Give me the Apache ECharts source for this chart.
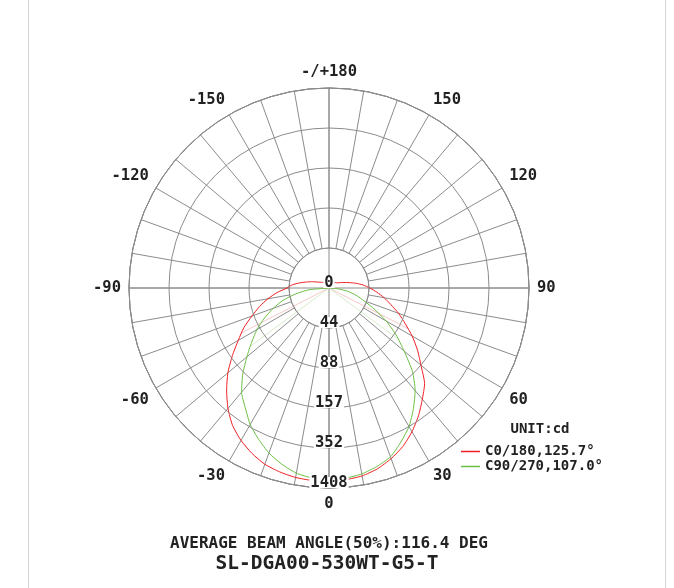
<!DOCTYPE html>
<html>
<head>
<meta charset="utf-8">
<script src="https://cdn.jsdelivr.net/npm/echarts@6/dist/echarts.min.js"></script>
<style>html,body{margin:0;padding:0;background:#fff}#c{width:674px;height:588px}</style>
</head>
<body>
<div id="c"></div>
<script>
// ---- data ----
const angles = [-180,-175,-170,-165,-160,-155,-150,-145,-140,-135,-130,-125,-120,-115,-110,-105,-100,-95,-90,-85,-80,-75,-70,-65,-60,-55,-50,-45,-40,-35,-30,-25,-20,-15,-10,-5,0,5,10,15,20,25,30,35,40,45,50,55,60,65,70,75,80,85,90,95,100,105,110,115,120,125,130,135,140,145,150,155,160,165,170,175,180];
// values in ring units (each ring = one labelled step of the radial scale)
const redValues = [0.15,0.15,0.15,0.15,0.15,0.15,0.16,0.17,0.18,0.20,0.22,0.25,0.29,0.36,0.46,0.58,0.74,0.92,1.05,1.30,1.55,1.80,2.05,2.35,2.62,2.95,3.30,3.62,3.93,4.20,4.40,4.56,4.69,4.76,4.81,4.83,4.84,4.81,4.77,4.68,4.54,4.37,4.15,3.90,3.63,3.38,3.00,2.70,2.40,2.10,1.85,1.60,1.40,1.20,1.02,0.86,0.68,0.52,0.40,0.32,0.26,0.23,0.21,0.19,0.18,0.17,0.16,0.15,0.15,0.15,0.15,0.15,0.15];
const greenValues = [0,0,0,0,0,0,0,0,0,0,0,0,0,0,0,0,0,0,0,0.50,0.84,1.19,1.48,1.78,2.08,2.36,2.68,3.05,3.40,3.65,3.94,4.17,4.39,4.56,4.70,4.77,4.80,4.77,4.72,4.62,4.49,4.25,4.00,3.68,3.35,2.95,2.45,2.05,1.65,1.25,0.93,0.70,0.48,0.22,0,0,0,0,0,0,0,0,0,0,0,0,0,0,0,0,0,0,0];
const radialTickLabels = ['0','44','88','157','352','1408'];
const angleTickLabels = ['0','30','60','90','120','150','-/+180','-150','-120','-90','-60','-30'];
const seriesNames = ['C0/180,125.7°','C90/270,107.0°'];
const beamAngles = [125.7, 107.0];
const unitText = 'UNIT:cd';
const titleText = 'AVERAGE BEAM ANGLE(50%):116.4 DEG';
const modelText = 'SL-DGA00-530WT-G5-T';

// ---- helpers ----
const FONT = '"DejaVu Sans Mono", "Liberation Mono", monospace';
const gridColor = '#8c8c8c';
const textColor = '#222';
const redColor = '#f01e23';
const greenColor = '#6cbf45';
const norm = a => (a < 0 ? a + 360 : a);
const toPolar = vals => vals.map((v, i) => [v, norm(angles[i])]);
function valueAt(vals, a) {
  for (let i = 0; i < angles.length - 1; i++) {
    if (a >= angles[i] && a <= angles[i + 1]) {
      const t = (a - angles[i]) / (angles[i + 1] - angles[i]);
      return vals[i] + t * (vals[i + 1] - vals[i]);
    }
  }
  return 0;
}
function beamLine(vals, full, color) {
  const h = full / 2;
  return [h, -h].map(a => ({
    type: 'line', coordinateSystem: 'polar', polarIndex: 0, silent: true,
    data: [[0, norm(a)], [valueAt(vals, a), norm(a)]],
    symbol: 'none', showSymbol: false,
    lineStyle: { color: color, width: 1 }, z: 1
  }));
}

const chart = echarts.init(document.getElementById('c'), null, { renderer: 'canvas' });
const option = {
  animation: false,
  backgroundColor: '#fff',
  polar: [
    { center: [329, 288], radius: 200 },
    { center: [329, 288], radius: [40, 200] }
  ],
  angleAxis: [
    {
      polarIndex: 0, type: 'value', min: 0, max: 360, interval: 90,
      startAngle: 270, clockwise: false,
      axisLine: { show: true, lineStyle: { color: gridColor, width: 1 } },
      axisTick: { show: false }, axisLabel: { show: false },
      splitLine: { show: true, lineStyle: { color: gridColor, width: 1 } }
    },
    {
      polarIndex: 1, type: 'value', min: 0, max: 360, interval: 10,
      startAngle: 270, clockwise: false,
      axisLine: { show: true, lineStyle: { color: gridColor, width: 1 } },
      axisTick: { show: false },
      axisLabel: {
        show: true, margin: 8, align: 'center', verticalAlign: 'middle',
        fontFamily: FONT, fontWeight: 'bold', fontSize: 15.5, color: textColor,
        formatter: v => (v % 30 === 0 && v < 360) ? angleTickLabels[v / 30] : ''
      },
      splitLine: { show: true, lineStyle: { color: gridColor, width: 1 } }
    }
  ],
  radiusAxis: [
    {
      polarIndex: 0, type: 'value', min: 0, max: 5, interval: 1, z: 5,
      axisLine: { show: false }, axisTick: { show: false },
      axisLabel: {
        show: true, margin: 0, align: 'center', verticalAlign: 'bottom',
        showMinLabel: true, showMaxLabel: true,
        lineHeight: 10, padding: [1, 1, 0, 1], backgroundColor: '#fff',
        fontFamily: FONT, fontWeight: 'bold', fontSize: 15.5, color: textColor,
        formatter: v => radialTickLabels[Math.round(v)]
      },
      splitLine: { show: true, lineStyle: { color: gridColor, width: 1 } }
    },
    { polarIndex: 1, type: 'value', min: 0, max: 1, show: false }
  ],
  legend: {
    data: seriesNames.map(n => ({ name: n, icon: 'rect' })),
    orient: 'vertical', left: 461, top: 444, padding: 0,
    itemWidth: 19, itemHeight: 1.5, itemGap: 0,
    textStyle: { fontFamily: FONT, fontWeight: 'bold', fontSize: 14, color: textColor, lineHeight: 15 }
  },
  graphic: [
    { type: 'line', shape: { x1: 28.5, y1: 0, x2: 28.5, y2: 588 }, style: { stroke: '#d6d6d6', lineWidth: 1 } },
    { type: 'line', shape: { x1: 665.5, y1: 0, x2: 665.5, y2: 588 }, style: { stroke: '#d6d6d6', lineWidth: 1 } },
    { type: 'text', x: 540, y: 429, style: { text: unitText, align: 'center', verticalAlign: 'middle', font: 'bold 14px ' + FONT, fill: textColor } },
    { type: 'text', x: 329, y: 544, style: { text: titleText, align: 'center', verticalAlign: 'middle', font: 'bold 16px ' + FONT, fill: textColor } },
    { type: 'text', x: 327, y: 564, style: { text: modelText, align: 'center', verticalAlign: 'middle', font: 'bold 19.5px ' + FONT, fill: textColor } }
  ],
  series: [
    {
      name: seriesNames[0], type: 'line', coordinateSystem: 'polar', polarIndex: 0,
      data: toPolar(redValues), symbol: 'none', showSymbol: false, smooth: 0.2,
      lineStyle: { color: redColor, width: 1 }, itemStyle: { color: redColor }, z: 3
    },
    {
      name: seriesNames[1], type: 'line', coordinateSystem: 'polar', polarIndex: 0,
      data: toPolar(greenValues), symbol: 'none', showSymbol: false, smooth: 0.2,
      lineStyle: { color: greenColor, width: 1 }, itemStyle: { color: greenColor }, z: 3
    },
    ...beamLine(redValues, beamAngles[0], '#f7c9c9'),
    ...beamLine(greenValues, beamAngles[1], '#d6ebcb')
  ]
};
chart.setOption(option);
</script>
</body>
</html>
